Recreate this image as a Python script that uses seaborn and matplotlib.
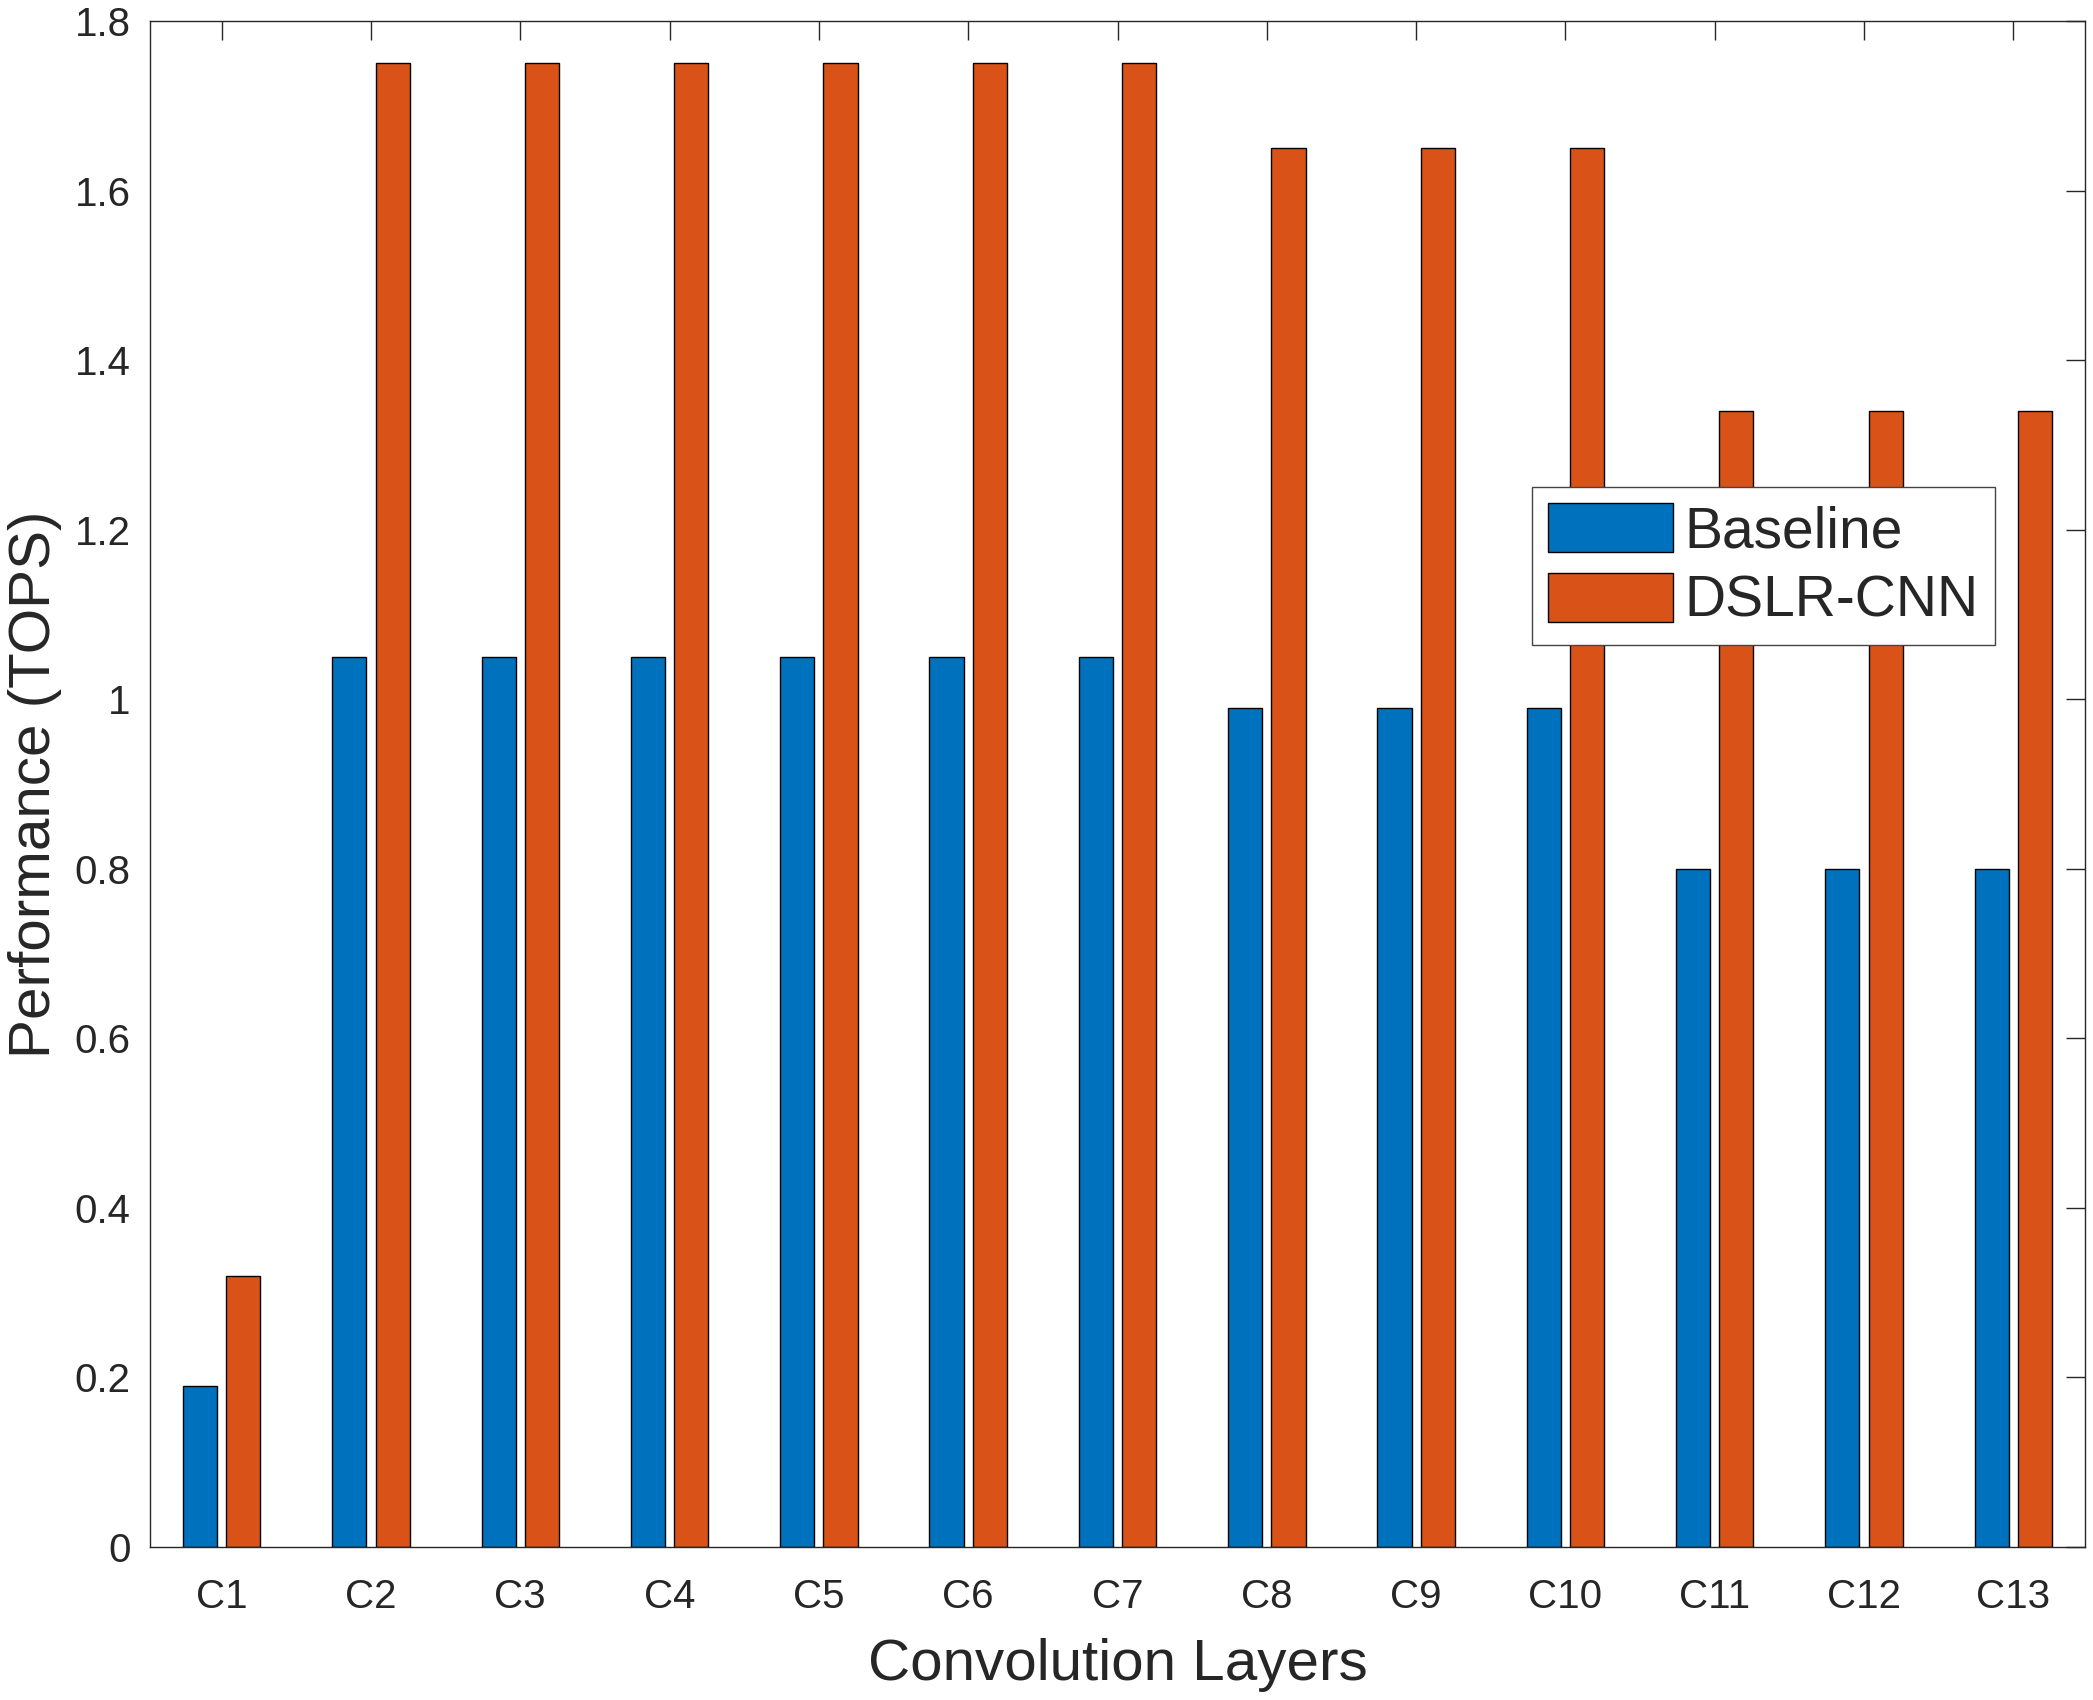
import pandas as pd
import matplotlib
matplotlib.use("Agg")
import matplotlib.pyplot as plt
import seaborn as sns

# values
layers = ["C1", "C2", "C3", "C4", "C5", "C6", "C7", "C8", "C9", "C10", "C11", "C12", "C13"]
baseline = [0.19, 1.05, 1.05, 1.05, 1.05, 1.05, 1.05, 0.99, 0.99, 0.99, 0.80, 0.80, 0.80]
dslr_cnn = [0.32, 1.75, 1.75, 1.75, 1.75, 1.75, 1.75, 1.65, 1.65, 1.65, 1.34, 1.34, 1.34]
series = ["Baseline", "DSLR-CNN"]
colors = ["#0072BD", "#D95319"]
y_ticks = [0, 0.2, 0.4, 0.6, 0.8, 1, 1.2, 1.4, 1.6, 1.8]
y_tick_labels = ["0", "0.2", "0.4", "0.6", "0.8", "1", "1.2", "1.4", "1.6", "1.8"]

df = pd.DataFrame({
    "layer": layers * 2,
    "value": baseline + dslr_cnn,
    "method": [series[0]] * len(layers) + [series[1]] * len(layers),
})

sns.set_style("white")
plt.rcParams["font.family"] = ["Liberation Sans", "DejaVu Sans"]

fig = plt.figure(figsize=(20.93, 17), dpi=100)
ax = fig.add_axes([150 / 2093, 1 - 1547 / 1700, (2085 - 150) / 2093, (1547 - 21) / 1700])

sns.barplot(data=df, x="layer", y="value", hue="method", order=layers,
            hue_order=series, palette=colors, width=0.58, gap=0.21,
            edgecolor="black", linewidth=1.0, saturation=1, errorbar=None, ax=ax)

ax.set_xlim(-0.48, 12.48)
ax.set_ylim(0, 1.8)
ax.set_yticks(y_ticks)
ax.set_yticklabels(y_tick_labels)

ax.tick_params(axis="both", which="major", direction="in", length=13.5, width=1.0,
               color="#262626", labelsize=29, labelcolor="#262626",
               top=True, right=True)
ax.tick_params(axis="y", pad=14)
ax.tick_params(axis="x", pad=22)
for sp in ax.spines.values():
    sp.set_visible(True)
    sp.set_color("#262626")
    sp.set_linewidth(1.0)

ax.set_xlabel("Convolution Layers", fontsize=42, color="#262626", labelpad=16)
ax.set_ylabel("Performance (TOPS)", fontsize=42, color="#262626", labelpad=9)

handles, labels = ax.get_legend_handles_labels()
leg = ax.legend(handles, labels, loc="upper left",
                bbox_to_anchor=(1532 / 2093, 1 - 487 / 1700), bbox_transform=fig.transFigure,
                fontsize=41, frameon=True, fancybox=False, framealpha=1,
                edgecolor="#444444", handlelength=2.2, handleheight=0.95,
                handletextpad=0.2, labelspacing=0.24, borderpad=0.28, borderaxespad=0)
leg.get_frame().set_linewidth(1.0)

fig.savefig("out.png", dpi=100)
